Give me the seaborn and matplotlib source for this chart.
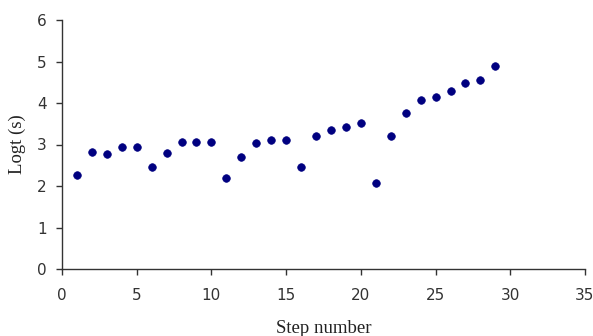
import matplotlib
matplotlib.use("Agg")
import matplotlib.pyplot as plt
import seaborn as sns
import pandas as pd

steps = list(range(1, 30))
logt = [2.26, 2.83, 2.77, 2.93, 2.95, 2.46, 2.80, 3.05, 3.05, 3.07,
        2.20, 2.71, 3.04, 3.11, 3.11, 2.45, 3.20, 3.36, 3.42, 3.51,
        2.08, 3.20, 3.76, 4.08, 4.15, 4.28, 4.49, 4.56, 4.90]
x_ticks = [0, 5, 10, 15, 20, 25, 30, 35]
y_ticks = [0, 1, 2, 3, 4, 5, 6]

df = pd.DataFrame({"step": steps, "logt": logt})

sns.set_theme(style="white")
plt.rcParams['font.family'] = ['DejaVu Sans']

fig = plt.figure(figsize=(5.93, 3.36), dpi=100)
ax = fig.add_axes([62/593, 1 - 269/336, (585 - 62)/593, (269 - 20)/336])

sns.scatterplot(data=df, x="step", y="logt", ax=ax, color="#000080",
                s=30, edgecolor="#000080", linewidth=0.5, marker="o", legend=False)

ax.set_xlim(0, 35)
ax.set_ylim(0, 6)
ax.set_xticks(x_ticks)
ax.set_yticks(y_ticks)
ax.tick_params(axis="both", direction="out", length=4, width=1, color="#333333",
               labelsize=11, labelcolor="#333333", bottom=True, left=True)
ax.tick_params(axis="x", pad=10)
ax.tick_params(axis="y", pad=7)
for side in ["top", "right"]:
    ax.spines[side].set_visible(False)
for side in ["left", "bottom"]:
    ax.spines[side].set_color("#333333")
    ax.spines[side].set_linewidth(1)

ax.set_xlabel("Step number", family=["Liberation Serif", "DejaVu Serif"], fontsize=13.5, color="#222222", labelpad=12)
ax.set_ylabel("Logt (s)", family=["Liberation Serif", "DejaVu Serif"], fontsize=13.5, color="#222222", labelpad=8)

fig.savefig("out.png", dpi=100, facecolor="white")
